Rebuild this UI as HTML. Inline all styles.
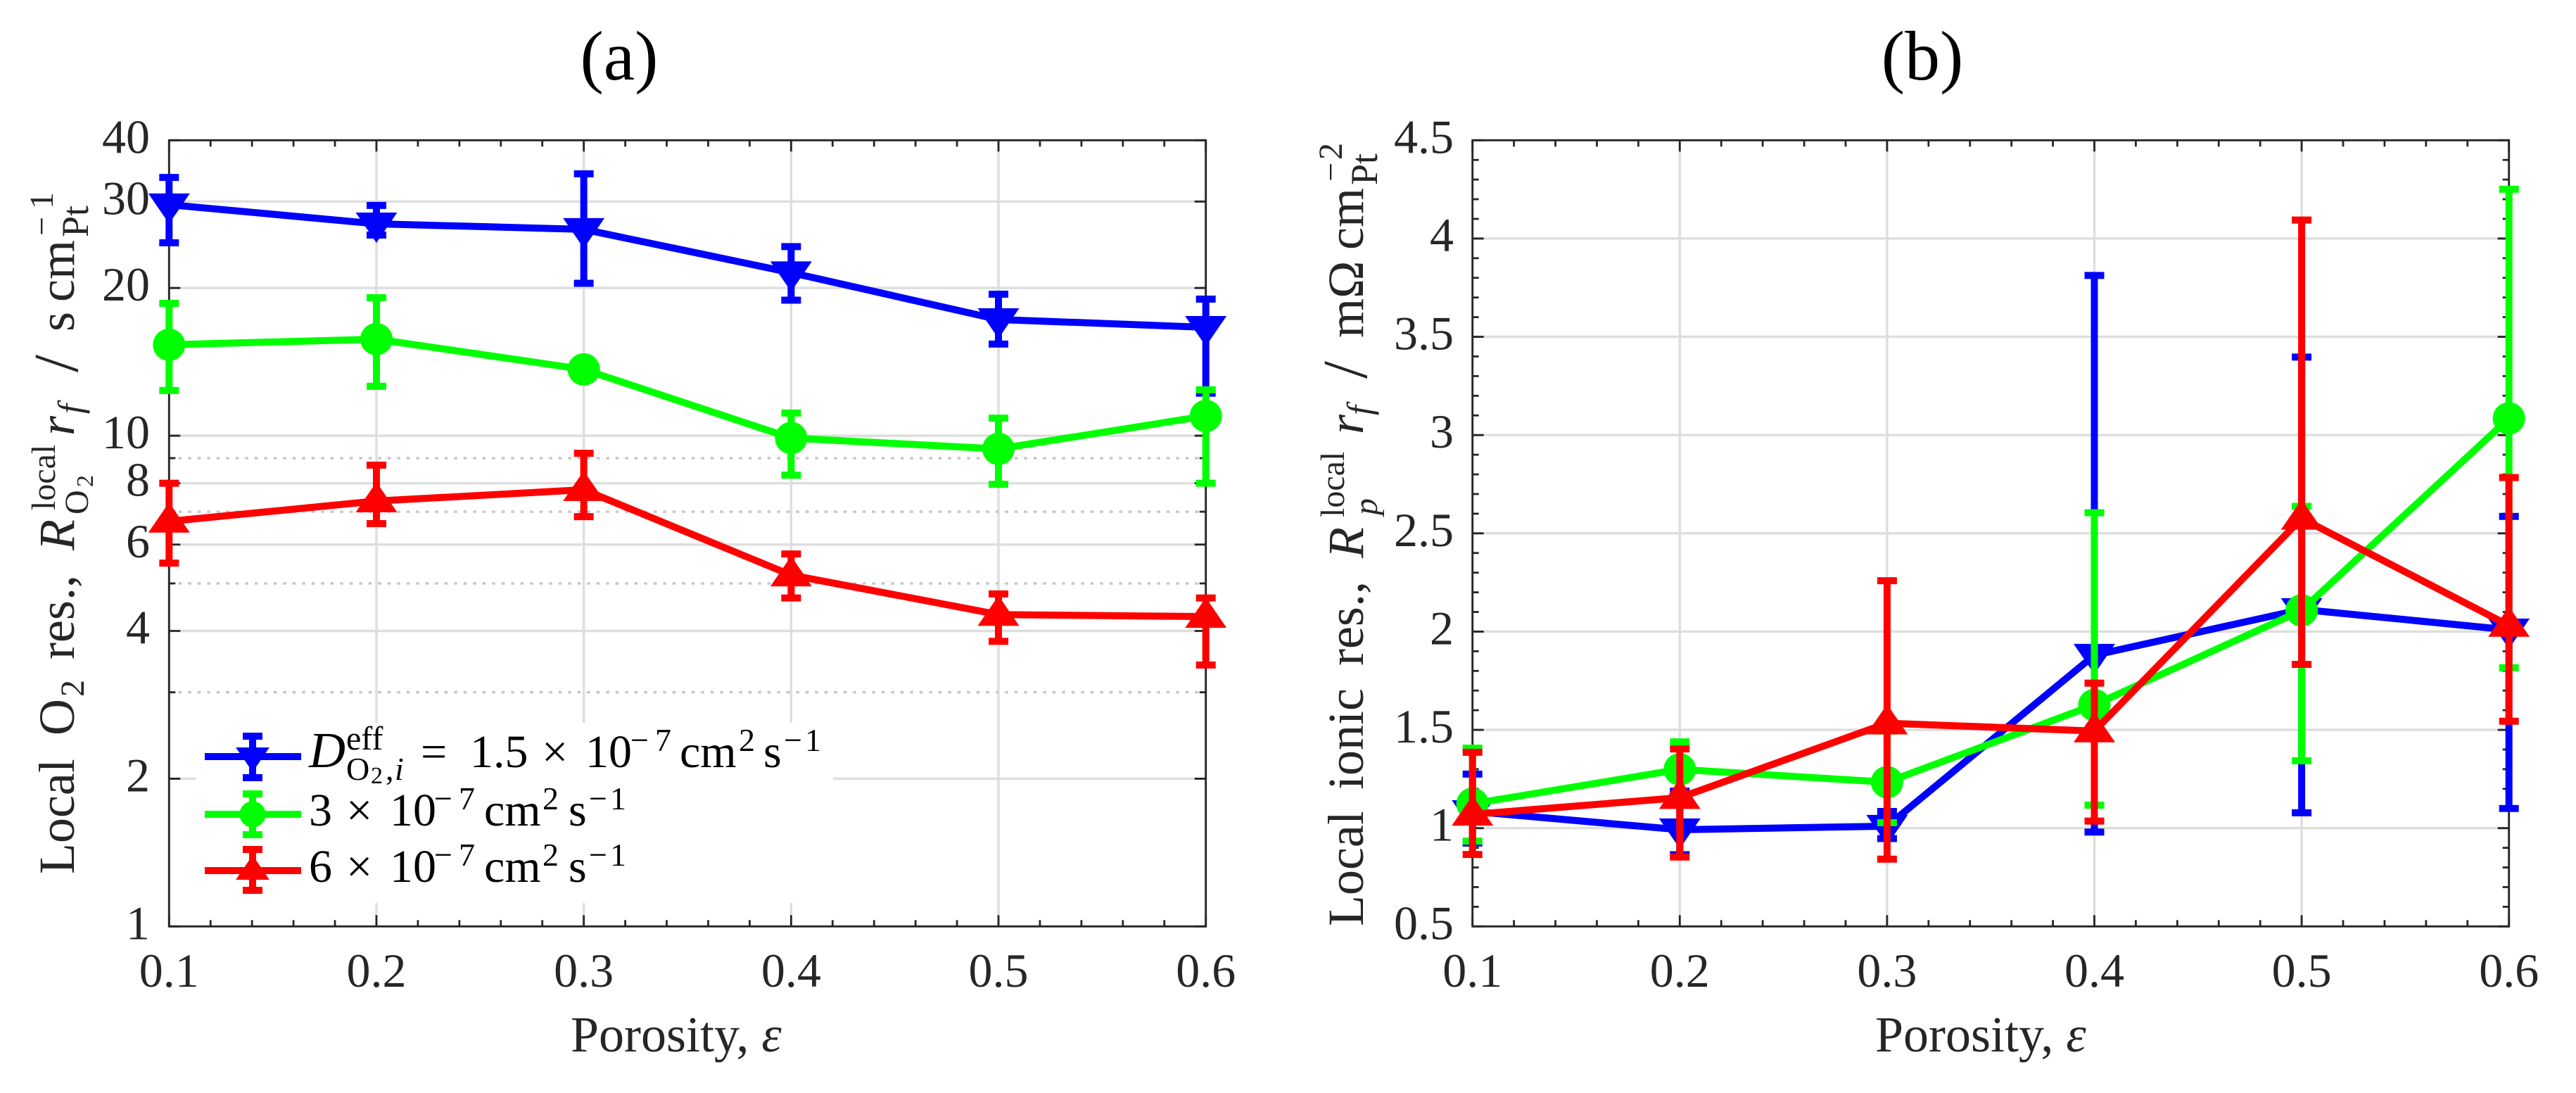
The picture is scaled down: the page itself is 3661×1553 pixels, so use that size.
<!DOCTYPE html>
<html lang="en">
<head>
<meta charset="utf-8">
<title>Local O2 and ionic resistance versus porosity</title>
<style>
html,body{margin:0;padding:0;background:#fff;}
body{width:3661px;height:1553px;overflow:hidden;}
svg{display:block;font-family:"Liberation Serif",serif;}
.tick{fill:#262626;font-size:68px;}
.lab{fill:#262626;font-size:72px;}
.ttl{fill:#000;font-size:100px;}
.leg{fill:#000;font-size:66px;}
</style>
</head>
<body>
<svg id="figure" width="3661" height="1553" viewBox="0 0 3661 1553" xmlns="http://www.w3.org/2000/svg">
  <rect x="0" y="0" width="3661" height="1553" fill="#fff"/>

  <g id="panelA"></g>
  <g id="panelB"></g>

  <text class="ttl" x="880" y="113" text-anchor="middle">(a)</text>
  <text class="ttl" x="2732" y="113" text-anchor="middle">(b)</text>

  <text class="lab" x="811" y="1494">Porosity, <tspan font-style="italic">ε</tspan></text>
  <text class="lab" x="2665" y="1494">Porosity, <tspan font-style="italic">ε</tspan></text>

  <text class="lab" transform="translate(105,0) rotate(-90)"><tspan x="-1242" y="0">Local</tspan><tspan x="-1045" y="0">O</tspan><tspan x="-990" y="14" font-size="48">2</tspan><tspan x="-937" y="0">res.,</tspan><tspan x="-782" y="0" font-style="italic">R</tspan><tspan x="-725" y="-27" font-size="48">local</tspan><tspan x="-731" y="20" font-size="48">O</tspan><tspan x="-692" y="27" font-size="34">2</tspan><tspan x="-619" y="0" font-style="italic">r</tspan><tspan x="-588" y="12" font-size="50" font-style="italic">f</tspan><tspan x="-529" y="5" font-size="90">/</tspan><tspan x="-471" y="0">s</tspan><tspan x="-429" y="0">cm</tspan><tspan x="-337" y="20" font-size="54">Pt</tspan><tspan x="-335" y="-30" font-size="48">−</tspan><tspan x="-297" y="-30" font-size="48">1</tspan></text>

  <text class="lab" transform="translate(1937,0) rotate(-90)"><tspan x="-1316" y="0">Local</tspan><tspan x="-1122" y="0">ionic</tspan><tspan x="-946" y="0">res.,</tspan><tspan x="-793" y="0" font-style="italic">R</tspan><tspan x="-735" y="-27" font-size="48">local</tspan><tspan x="-732" y="20" font-size="48" font-style="italic">p</tspan><tspan x="-617" y="0" font-style="italic">r</tspan><tspan x="-590" y="12" font-size="50" font-style="italic">f</tspan><tspan x="-538" y="5" font-size="90">/</tspan><tspan x="-480" y="0">mΩ</tspan><tspan x="-355" y="0">cm</tspan><tspan x="-263" y="20" font-size="54">Pt</tspan><tspan x="-258" y="-30" font-size="48">−</tspan><tspan x="-227" y="-30" font-size="48">2</tspan></text>

  <g id="legend">
    <rect x="278" y="1027" width="906" height="256" fill="#fff"/>
    <g id="legendKeys"></g>
    <text class="leg"><tspan x="439" y="1090" font-style="italic" font-size="72">D</tspan><tspan x="492" y="1065" font-size="48">eff</tspan><tspan x="492" y="1108" font-size="46">O</tspan><tspan x="527" y="1113" font-size="34">2</tspan><tspan x="548" y="1108" font-size="46">,</tspan><tspan x="561" y="1108" font-size="46" font-style="italic">i</tspan><tspan x="598" y="1090">=</tspan><tspan x="668" y="1090">1.5</tspan><tspan x="770" y="1090">×</tspan><tspan x="832" y="1090">10</tspan><tspan x="896" y="1067" font-size="46">−</tspan><tspan x="931" y="1067" font-size="46">7</tspan><tspan x="966" y="1090">cm</tspan><tspan x="1050" y="1067" font-size="46">2</tspan><tspan x="1085" y="1090">s</tspan><tspan x="1114" y="1067" font-size="46">−</tspan><tspan x="1144" y="1067" font-size="46">1</tspan></text>
    <text class="leg"><tspan x="439" y="1173">3</tspan><tspan x="492" y="1173">×</tspan><tspan x="554" y="1173">10</tspan><tspan x="617" y="1150" font-size="46">−</tspan><tspan x="652" y="1150" font-size="46">7</tspan><tspan x="688" y="1173">cm</tspan><tspan x="771" y="1150" font-size="46">2</tspan><tspan x="808" y="1173">s</tspan><tspan x="837" y="1150" font-size="46">−</tspan><tspan x="867" y="1150" font-size="46">1</tspan></text>
    <text class="leg"><tspan x="439" y="1253">6</tspan><tspan x="492" y="1253">×</tspan><tspan x="554" y="1253">10</tspan><tspan x="617" y="1230" font-size="46">−</tspan><tspan x="652" y="1230" font-size="46">7</tspan><tspan x="688" y="1253">cm</tspan><tspan x="771" y="1230" font-size="46">2</tspan><tspan x="808" y="1253">s</tspan><tspan x="837" y="1230" font-size="46">−</tspan><tspan x="867" y="1230" font-size="46">1</tspan></text>
  </g>
</svg>

<script>
// ---- shared categories ----
const porosity = [0.1, 0.2, 0.3, 0.4, 0.5, 0.6];
const xTickLabels = ["0.1", "0.2", "0.3", "0.4", "0.5", "0.6"];

// ---- panel (a): local O2 resistance, s/cm ----
const aBlueMean  = [29.56, 27.03, 26.33, 21.49, 17.25, 16.63];
const aBlueUpper = [33.6, 29.46, 34.17, 24.29, 19.43, 18.98];
const aBlueLower = [24.72, 25.64, 20.45, 18.89, 15.37, 12.21];
const aGreenMean  = [15.32, 15.73, 13.65, 9.89, 9.40, 10.97];
const aGreenUpper = [18.61, 19.11, 14.24, 11.12, 10.86, 12.40];
const aGreenLower = [12.36, 12.61, 13.07, 8.31, 7.96, 8.00];
const aRedMean  = [6.69, 7.36, 7.76, 5.20, 4.32, 4.28];
const aRedUpper = [8.00, 8.71, 9.21, 5.74, 4.76, 4.67];
const aRedLower = [5.50, 6.62, 6.84, 4.67, 3.81, 3.41];
const aYMajorTicks = [1, 2, 4, 6, 8, 10, 20, 30, 40];
const aYMinorTicks = [3, 5, 7, 9];

// ---- panel (b): local ionic resistance, mOhm cm2 ----
const bBlueMean  = [1.085, 0.992, 1.010, 1.880, 2.113, 2.009];
const bBlueUpper = [1.275, 1.188, 1.085, 3.812, 3.397, 2.586];
const bBlueLower = [0.924, 0.865, 0.947, 0.980, 1.078, 1.100];
const bGreenMean  = [1.124, 1.299, 1.234, 1.627, 2.108, 3.085];
const bGreenUpper = [1.407, 1.439, 1.494, 2.605, 2.637, 4.251];
const bGreenLower = [0.934, 1.16, 1.028, 1.117, 1.343, 1.816];
const bRedMean  = [1.070, 1.155, 1.534, 1.494, 2.576, 2.031];
const bRedUpper = [1.386, 1.403, 2.259, 1.738, 4.094, 2.784];
const bRedLower = [0.866, 0.853, 0.842, 1.036, 1.833, 1.544];
const bYMajorTicks = [0.5, 1, 1.5, 2, 2.5, 3, 3.5, 4, 4.5];
const bYMinorTicks = [0.6, 0.7, 0.8, 0.9, 1.1, 1.2, 1.3, 1.4, 1.6, 1.7, 1.8, 1.9, 2.1, 2.2, 2.3, 2.4, 2.6, 2.7, 2.8, 2.9, 3.1, 3.2, 3.3, 3.4, 3.6, 3.7, 3.8, 3.9, 4.1, 4.2, 4.3, 4.4];

const NS = "http://www.w3.org/2000/svg";
const AXIS = "#262626", GRID = "#dedede", DOT = "#c6c6c6";
const TOP = 199.3, BOTTOM = 1316.3;

function add(parent, tag, attrs) {
  const el = document.createElementNS(NS, tag);
  for (const k in attrs) el.setAttribute(k, attrs[k]);
  parent.appendChild(el);
  return el;
}

// axis functions
function xA(v) { return 240.3 + (v - 0.1) / 0.5 * 1473.4; }
function yA(v) { return BOTTOM - Math.log10(v) / Math.log10(40) * (BOTTOM - TOP); }
function xB(v) { return 2092.7 + (v - 0.1) / 0.5 * 1473; }
function yB(v) { return BOTTOM - (v - 0.5) / 4 * (BOTTOM - TOP); }

function drawMarker(layer, kind, cx, cy, color, scale) {
  let m;
  if (kind === "circle") {
    m = add(layer, "ellipse", {cx: cx, cy: cy, rx: 23 * scale, ry: 23 * scale, fill: color});
  } else if (kind === "down") {
    m = add(layer, "polygon", {points: (cx - 29.5 * scale) + "," + (cy - 16 * scale) + " " + (cx + 29.5 * scale) + "," + (cy - 16 * scale) + " " + cx + "," + (cy + 27 * scale), fill: color});
  } else {
    m = add(layer, "polygon", {points: (cx - 29.5 * scale) + "," + (cy + 16 * scale) + " " + (cx + 29.5 * scale) + "," + (cy + 16 * scale) + " " + cx + "," + (cy - 27 * scale), fill: color});
  }
  
  
  return m;
}

function drawSeries(layer, label, color, kind, xs, mean, upper, lower, xf, yf) {
  const g = add(layer, "g", {});
  
  
  const pts = xs.map(function (x, i) { return xf(x) + "," + yf(mean[i]); }).join(" ");
  const line = add(g, "polyline", {points: pts, fill: "none", stroke: color, "stroke-width": 10, "stroke-linejoin": "miter"});
  
  
  xs.forEach(function (x, i) {
    const px = xf(x);
    const stem = add(g, "line", {x1: px, x2: px, y1: yf(upper[i]), y2: yf(lower[i]), stroke: color, "stroke-width": 10});
    
    
    const capTop = add(g, "line", {x1: px - 14, x2: px + 14, y1: yf(upper[i]), y2: yf(upper[i]), stroke: color, "stroke-width": 10});
    
    
    const capBottom = add(g, "line", {x1: px - 14, x2: px + 14, y1: yf(lower[i]), y2: yf(lower[i]), stroke: color, "stroke-width": 10});
    
    
    drawMarker(g, kind, px, yf(mean[i]), color, 1);
  });
}

function drawAxes(panel, prefix, xf, yf, yMajor, yMinor, yMinorGrid, labelRight, left, right) {
  // grid
  porosity.forEach(function (v) {
    const gl = add(panel, "line", {x1: xf(v), x2: xf(v), y1: TOP, y2: BOTTOM, stroke: GRID, "stroke-width": 3.5});
    
    
  });
  yMajor.forEach(function (v) {
    const gl = add(panel, "line", {x1: left, x2: right, y1: yf(v), y2: yf(v), stroke: GRID, "stroke-width": 3.5});
    
    
  });
  if (yMinorGrid) {
    yMinor.forEach(function (v) {
      const gl = add(panel, "line", {x1: left, x2: right, y1: yf(v), y2: yf(v), stroke: DOT, "stroke-width": 3.5, "stroke-dasharray": "4.5 9"});
      
      
    });
  }
  // x ticks
  for (let i = 0; i <= 25; i++) {
    const v = 0.1 + i * 0.02;
    const len = i % 5 === 0 ? 16 : 9;
    const t1 = add(panel, "line", {x1: xf(v), x2: xf(v), y1: BOTTOM, y2: BOTTOM - len, stroke: AXIS, "stroke-width": 2.8});
    
    
    const t2 = add(panel, "line", {x1: xf(v), x2: xf(v), y1: TOP, y2: TOP + len, stroke: AXIS, "stroke-width": 2.8});
    
    
  }
  // y ticks
  yMajor.concat(yMinor).forEach(function (v, i) {
    const len = i < yMajor.length ? 16 : 9;
    const t1 = add(panel, "line", {x1: left, x2: left + len, y1: yf(v), y2: yf(v), stroke: AXIS, "stroke-width": 2.8});
    
    
    const t2 = add(panel, "line", {x1: right, x2: right - len, y1: yf(v), y2: yf(v), stroke: AXIS, "stroke-width": 2.8});
    
    
  });
  // frame
  const frame = add(panel, "rect", {x: left, y: TOP, width: right - left, height: BOTTOM - TOP, fill: "none", stroke: AXIS, "stroke-width": 2.8});
  
  
  // labels
  porosity.forEach(function (v, i) {
    const tx = add(panel, "text", {x: xf(v), y: 1402, "text-anchor": "middle", "class": "tick"});
    tx.textContent = xTickLabels[i];
    
    
  });
  yMajor.forEach(function (v) {
    const ty = add(panel, "text", {x: labelRight, y: yf(v) + 18, "text-anchor": "end", "class": "tick"});
    ty.textContent = String(v);
    
    
  });
}

const panelA = document.getElementById("panelA");
const panelB = document.getElementById("panelB");
drawAxes(panelA, "panel-a", xA, yA, aYMajorTicks, aYMinorTicks, true, 213, xA(0.1), xA(0.6));
drawAxes(panelB, "panel-b", xB, yB, bYMajorTicks, bYMinorTicks, false, 2066, xB(0.1), xB(0.6));

drawSeries(panelA, "panel-a-series-1-5e-7", "#0000ff", "down", porosity, aBlueMean, aBlueUpper, aBlueLower, xA, yA);
drawSeries(panelA, "panel-a-series-3e-7", "#00ff00", "circle", porosity, aGreenMean, aGreenUpper, aGreenLower, xA, yA);
drawSeries(panelA, "panel-a-series-6e-7", "#ff0000", "up", porosity, aRedMean, aRedUpper, aRedLower, xA, yA);

drawSeries(panelB, "panel-b-series-1-5e-7", "#0000ff", "down", porosity, bBlueMean, bBlueUpper, bBlueLower, xB, yB);
drawSeries(panelB, "panel-b-series-3e-7", "#00ff00", "circle", porosity, bGreenMean, bGreenUpper, bGreenLower, xB, yB);
drawSeries(panelB, "panel-b-series-6e-7", "#ff0000", "up", porosity, bRedMean, bRedUpper, bRedLower, xB, yB);

// legend keys
const legendKeys = document.getElementById("legendKeys");
function legendKey(label, color, kind, cy, capUp, capDown) {
  const g = add(legendKeys, "g", {});
  
  
  const ln = add(g, "line", {x1: 291, x2: 428, y1: cy, y2: cy, stroke: color, "stroke-width": 10});
  
  
  const st = add(g, "line", {x1: 359, x2: 359, y1: cy - capUp, y2: cy + capDown, stroke: color, "stroke-width": 10});
  
  
  const c1 = add(g, "line", {x1: 345, x2: 373, y1: cy - capUp, y2: cy - capUp, stroke: color, "stroke-width": 10});
  
  
  const c2 = add(g, "line", {x1: 345, x2: 373, y1: cy + capDown, y2: cy + capDown, stroke: color, "stroke-width": 10});
  
  
  drawMarker(g, kind, 359, cy, color, 0.81);
}
legendKey("legend-key-1-5e-7", "#0000ff", "down", 1075, 29, 30);
legendKey("legend-key-3e-7", "#00ff00", "circle", 1157, 29, 29);
legendKey("legend-key-6e-7", "#ff0000", "up", 1237, 30, 28);
</script>
</body>
</html>
